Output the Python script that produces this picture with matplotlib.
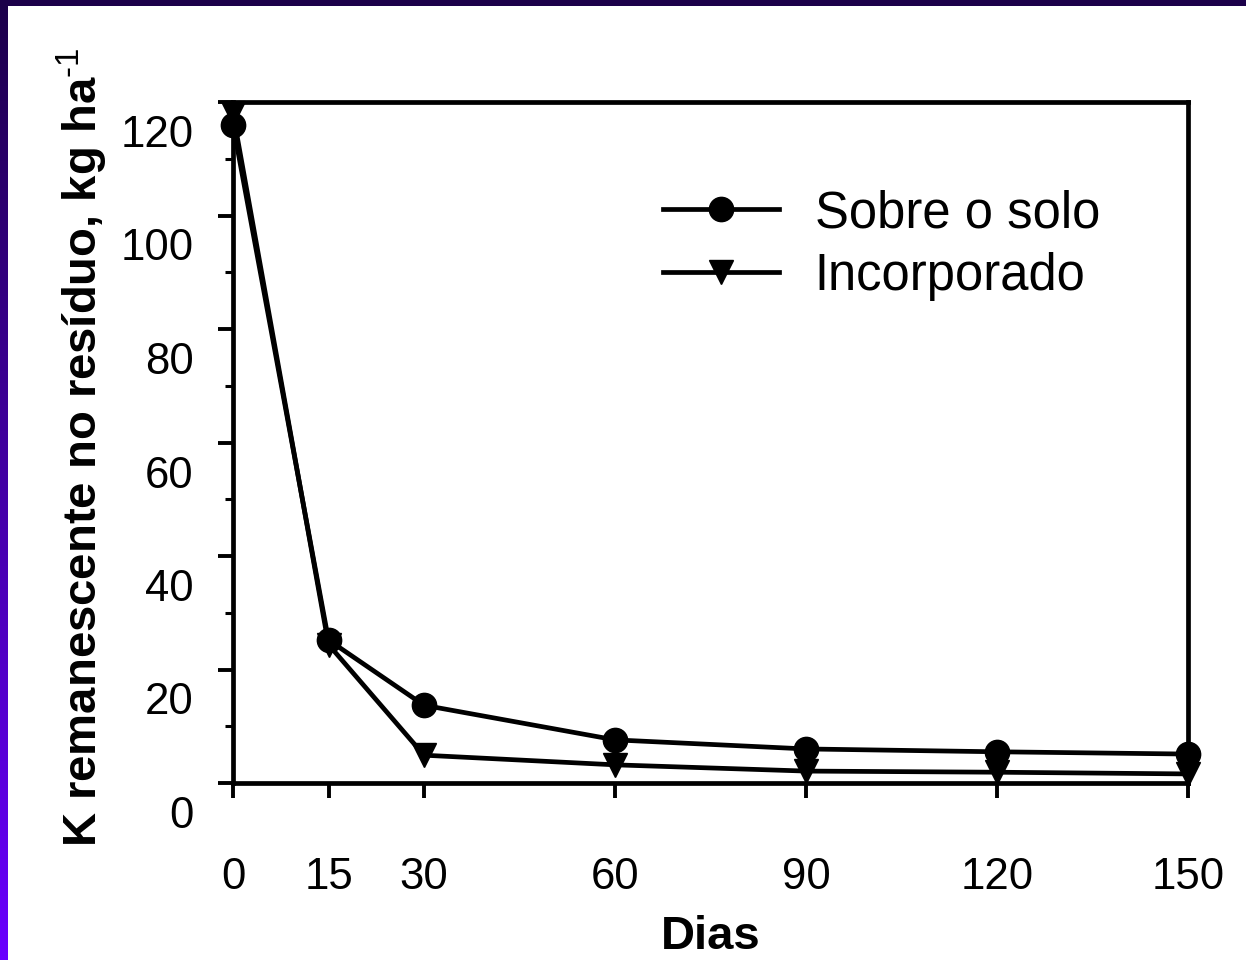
import numpy as np
import matplotlib
matplotlib.use("Agg")
import matplotlib.pyplot as plt
import matplotlib.transforms as mtransforms
from matplotlib.ticker import MultipleLocator

plt.rcParams['font.family'] = ['Liberation Sans', 'DejaVu Sans']
plt.rcParams['mathtext.fontset'] = 'custom'
plt.rcParams['mathtext.rm'] = 'Liberation Sans'
plt.rcParams['mathtext.bf'] = 'Liberation Sans:bold'

# data
dias = [0, 15, 30, 60, 90, 120, 150]
sobre_solo = [116.0, 25.2, 13.7, 7.6, 6.0, 5.5, 5.1]
incorporado = [118.0, 24.4, 4.9, 3.2, 2.1, 1.9, 1.6]
x_ticks = [0, 15, 30, 60, 90, 120, 150]
y_ticks = [0, 20, 40, 60, 80, 100, 120]

fig = plt.figure(figsize=(12.46, 9.6), dpi=100)
fig.patch.set_facecolor('white')

# purple frame: band on top and gradient band on the left
top = fig.add_axes([0, 1 - 6 / 960, 1, 6 / 960])
top.set_axis_off()
top.add_patch(plt.Rectangle((0, 0), 1, 1, color='#1c004a', transform=top.transAxes))
left = fig.add_axes([0, 0, 8 / 1246, 1])
left.set_axis_off()
grad = np.linspace(0, 1, 256).reshape(-1, 1)
cmap = matplotlib.colors.LinearSegmentedColormap.from_list('pp', ['#6a00ff', '#1c004a'])
left.imshow(grad, aspect='auto', cmap=cmap, origin='lower', extent=[0, 1, 0, 1])

ax = fig.add_axes([233 / 1246, 1 - 783 / 960, (1188 - 233) / 1246, (783 - 102) / 960])
ax.plot(dias, sobre_solo, color='black', lw=3.4, marker='o', ms=17.5, label='Sobre o solo', clip_on=False, zorder=3)
ax.plot(dias, incorporado, color='black', lw=3.4, marker='v', ms=17.5, label='Incorporado', clip_on=False, zorder=3)

ax.set_xlim(0, 150)
ax.set_ylim(0, 120)
ax.set_xticks(x_ticks)
ax.set_yticks(y_ticks)
ax.yaxis.set_minor_locator(MultipleLocator(10))
for s in ax.spines.values():
    s.set_linewidth(3.4)
ax.tick_params(axis='both', which='major', direction='out', length=10.5, width=2.8, labelsize=31.5)
ax.tick_params(axis='y', which='minor', direction='out', length=5.5, width=2.2)
ax.tick_params(axis='x', pad=43)
ax.tick_params(axis='y', pad=18)

# tick labels sit below their tick in the original
off = mtransforms.ScaledTranslation(0, -0.29, fig.dpi_scale_trans)
for lab in ax.get_yticklabels():
    lab.set_transform(lab.get_transform() + off)

ax.set_xlabel('Dias', fontsize=34, fontweight='bold', labelpad=12)
fig.text(82 / 1246, 1 - 447 / 960, 'K remanescente no resíduo, kg ha$^{\u20101}$',
         rotation=90, ha='center', va='center', fontsize=34, fontweight='bold')

ax.legend(loc='upper left', bbox_to_anchor=(0.45, 0.872), frameon=False, fontsize=36.5,
          handlelength=2.3, handletextpad=0.7, labelspacing=0.27, borderpad=0, borderaxespad=0)

fig.savefig('out.png', dpi=100)
